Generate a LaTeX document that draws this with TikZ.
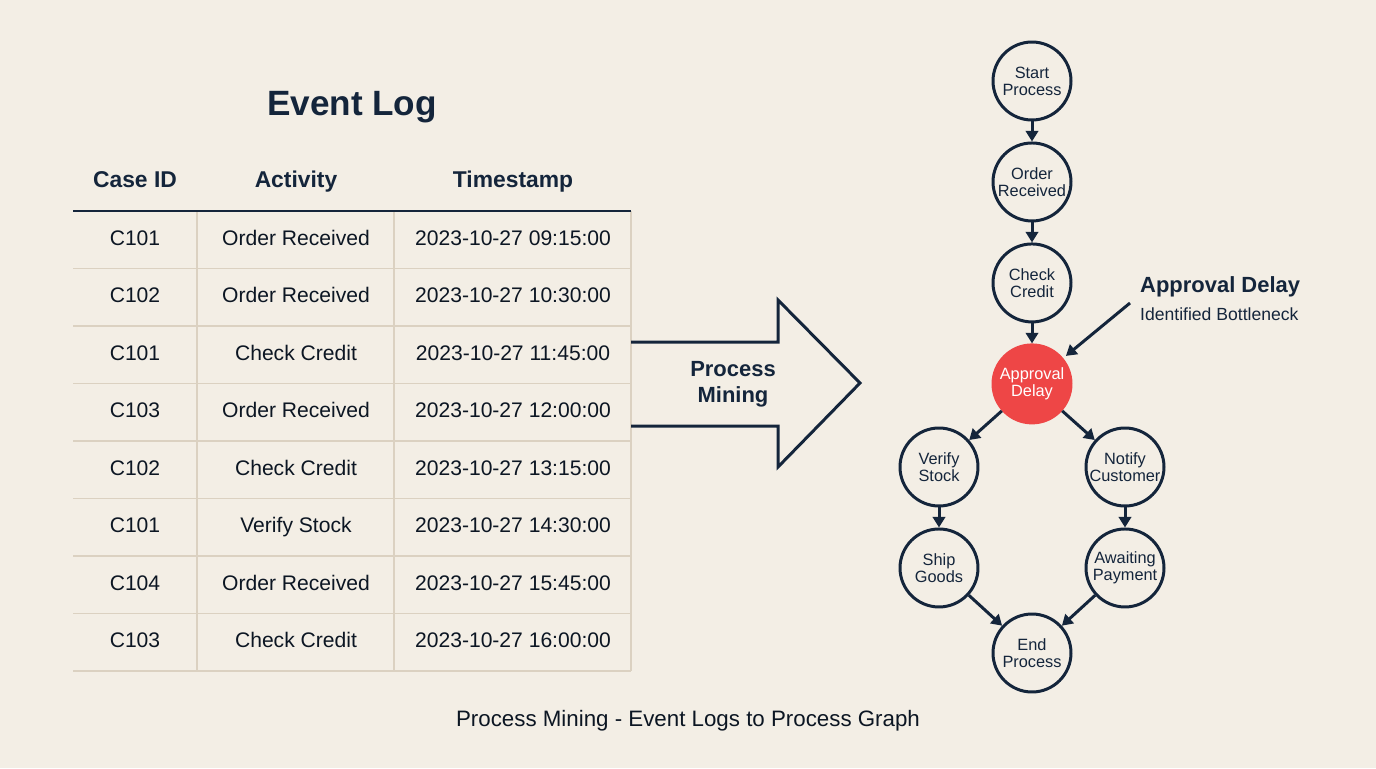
\documentclass[tikz,border=0pt]{standalone}
\usepackage{fontspec}
\setmainfont{Liberation Sans}
\usetikzlibrary{positioning,arrows.meta}
\definecolor{navy}{HTML}{14253B}
\definecolor{paper}{HTML}{F3EEE5}
\definecolor{gridline}{HTML}{DBD1C1}
\definecolor{alarm}{HTML}{EE4646}
\tikzset{
  state/.style={draw=navy,circle,line width=1.7pt,minimum size=1.56cm,inner sep=-2pt,
    align=center,text=navy,font=\fontsize{9.3}{9.8}\selectfont},
  hot/.style={state,draw=alarm,fill=alarm,text=white},
  flow/.style={draw=navy,line width=1.7pt,-{Triangle[length=6pt,width=7pt]}},
  cell/.style={text=navy!60!black,font=\fontsize{12}{14}\selectfont,text height=8.6pt,text depth=2.6pt},
  head/.style={text=navy,font=\fontsize{13}{15}\selectfont\bfseries,text height=9.4pt,text depth=2.8pt}
}
\begin{document}
\begin{tikzpicture}[x=0.02cm,y=-0.02cm]
  \fill[paper] (0,0) rectangle (1376,768);
  \useasboundingbox (0,0) rectangle (1376,768);

  % event log table
  \node[text=navy,font=\fontsize{20}{24}\selectfont\bfseries] (title) at (352,107) {Event Log};
  \node[head] (hcase) at (135,182) {Case ID};
  \node[head] (hact) at (296,182) {Activity};
  \node[head] (htime) at (513,182) {Timestamp};
  \foreach \k in {1,...,8}
    \draw[gridline,line width=0.8pt] (73,211+57.5*\k) -- (631,211+57.5*\k);
  \foreach \x in {197,394,631}
    \draw[gridline,line width=0.8pt] (\x,211) -- (\x,671);
  \draw[navy,line width=1.6pt] (73,211) -- (631,211);
  \foreach \i/\case/\act/\time in {
      1/C101/Order Received/09:15:00,
      2/C102/Order Received/10:30:00,
      3/C101/Check Credit/11:45:00,
      4/C103/Order Received/12:00:00,
      5/C102/Check Credit/13:15:00,
      6/C101/Verify Stock/14:30:00,
      7/C104/Order Received/15:45:00,
      8/C103/Check Credit/16:00:00} {
    \node[cell] (case\i) at (135,182.5+57.5*\i) {\case};
    \node[cell] (act\i) at (296,182.5+57.5*\i) {\act};
    \node[cell] (time\i) at (513,182.5+57.5*\i) {2023-10-27 \time};
  }

  % big arrow
  \draw[navy,line width=1.7pt,line join=miter]
    (631,342) -- (778,342) -- (778,300) -- (860,383) -- (778,467) -- (778,426) -- (631,426);
  \node[text=navy,align=center,font=\fontsize{12.5}{14.7}\selectfont\bfseries] (mining) at (733,384) {Process\\Mining};

  % process graph
  \node[state] (start) at (1032,81) {Start\\Process};
  \node[state] (order) [below=0.4cm of start] {Order\\Received};
  \node[state] (credit) [below=0.4cm of order] {Check\\Credit};
  \node[hot] (delay) [below=0.4cm of credit] {Approval\\Delay};
  \node[state] (verify) at (939,467) {Verify\\Stock};
  \node[state] (ship) [below=0.4cm of verify] {Ship\\Goods};
  \node[state] (notify) at (1125,467) {Notify\\Customer};
  \node[state] (payment) [below=0.4cm of notify] {Awaiting\\Payment};
  \node[state] (finish) at (1032,653) {End\\Process};
  \draw[flow] (start) -- (order);
  \draw[flow] (order) -- (credit);
  \draw[flow] (credit) -- (delay);
  \draw[flow] (delay) -- (verify);
  \draw[flow] (delay) -- (notify);
  \draw[flow] (verify) -- (ship);
  \draw[flow] (notify) -- (payment);
  \draw[flow] (ship) -- (finish);
  \draw[flow] (payment) -- (finish);

  % bottleneck note
  \node[anchor=west,text=navy,font=\fontsize{12.5}{15}\selectfont\bfseries] (note) at (1134,287) {Approval Delay};
  \node[anchor=west,text=navy,font=\fontsize{10}{12}\selectfont] (notesub) at (1134,314) {Identified Bottleneck};
  \coordinate (notetail) at (1130,303);
  \draw[flow,shorten >=2pt] (notetail) -- (delay);

  \node[text=navy!60!black,font=\fontsize{12.7}{15}\selectfont] (caption) at (688,721) {Process Mining - Event Logs to Process Graph};
\end{tikzpicture}
\end{document}
